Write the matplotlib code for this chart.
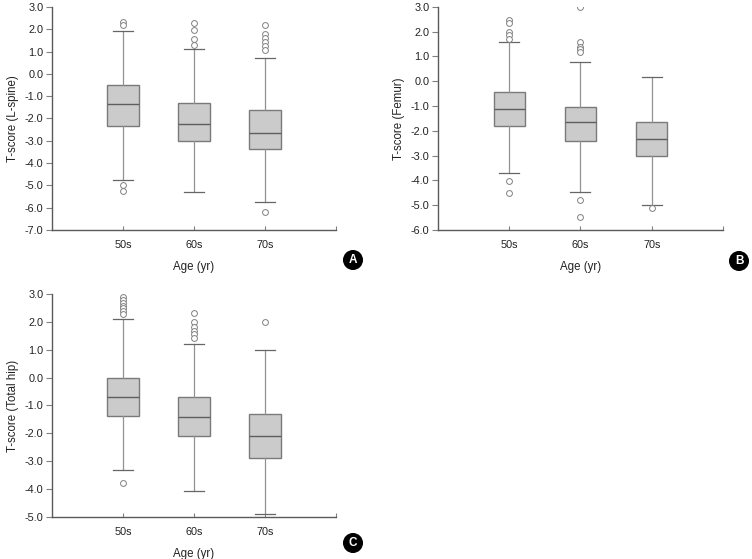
import matplotlib

matplotlib.use("Agg")
import matplotlib.pyplot as plt

plt.rcParams["font.family"] = ["Liberation Sans", "DejaVu Sans"]
plt.rcParams["axes.unicode_minus"] = False

groups = ["50s", "60s", "70s"]

# panel A: L-spine
a_whislo = [-4.75, -5.30, -5.73]
a_q1 = [-2.32, -3.01, -3.37]
a_med = [-1.35, -2.26, -2.65]
a_q3 = [-0.50, -1.30, -1.64]
a_whishi = [1.90, 1.10, 0.70]
a_fliers = [[2.31, 2.18, -4.98, -5.27],
            [2.28, 1.98, 1.57, 1.28],
            [2.21, 1.79, 1.61, 1.43, 1.25, 1.09, -6.18]]

# panel B: femur
b_whislo = [-3.71, -4.48, -5.00]
b_q1 = [-1.80, -2.42, -3.02]
b_med = [-1.13, -1.65, -2.32]
b_q3 = [-0.43, -1.04, -1.66]
b_whishi = [1.58, 0.78, 0.17]
b_fliers = [[2.46, 2.35, 1.99, 1.87, 1.71, -4.04, -4.51],
            [3.00, 1.60, 1.38, 1.29, 1.19, -4.78, -5.49],
            [-5.10]]

# panel C: total hip
c_whislo = [-3.33, -4.08, -4.89]
c_q1 = [-1.38, -2.10, -2.89]
c_med = [-0.71, -1.41, -2.10]
c_q3 = [-0.01, -0.71, -1.31]
c_whishi = [2.10, 1.21, 0.98]
c_fliers = [[2.88, 2.78, 2.68, 2.58, 2.48, 2.38, 2.28, -3.78],
            [2.32, 2.01, 1.80, 1.68, 1.56, 1.41],
            [2.01]]

BOX_FC = "#cbcbcb"
EDGE = "#7a7a7a"
WHISK = "#929292"


def make_stats(whislo, q1, med, q3, whishi, fliers):
    return [dict(label=g, whislo=lo, q1=a, med=m, q3=b, whishi=hi, fliers=f)
            for g, lo, a, m, b, hi, f in zip(groups, whislo, q1, med, q3, whishi, fliers)]


def draw_panel(fig, rect, stats, ylim, ylabel, letter, badge_xy):
    ax = fig.add_axes(rect)
    ax.bxp(stats, positions=[1, 2, 3], widths=0.44, capwidths=0.28,
           patch_artist=True,
           boxprops=dict(facecolor=BOX_FC, edgecolor=EDGE, linewidth=1.0),
           medianprops=dict(color="#5e5e5e", linewidth=1.0),
           whiskerprops=dict(color=WHISK, linewidth=0.9),
           capprops=dict(color="#666666", linewidth=0.9),
           flierprops=dict(marker="o", markersize=4.2, markerfacecolor="white",
                           markeredgecolor="#808080", markeredgewidth=0.7))
    ax.set_xlim(0, 4)
    ax.set_ylim(*ylim)
    yt = range(int(ylim[0]), int(ylim[1]) + 1)
    ax.set_yticks(yt)
    ax.set_yticklabels([f"{v:.1f}" for v in yt])
    ax.set_xticks([1, 2, 3, 4])
    ax.set_xticklabels(groups + [""])
    for s in ("top", "right"):
        ax.spines[s].set_visible(False)
    for s in ("left", "bottom"):
        ax.spines[s].set_color("#5a5a5a")
        ax.spines[s].set_linewidth(1.0)
    ax.tick_params(axis="y", direction="out", length=4, width=0.8, color="#808080",
                   labelsize=7.8, pad=2, labelcolor="#222222")
    ax.tick_params(axis="x", direction="in", length=3, width=0.8, color="#808080",
                   labelsize=7.8, pad=7, labelcolor="#222222")
    ax.set_xlabel("Age (yr)", fontsize=8.3, labelpad=8, color="#222222")
    ax.set_ylabel(ylabel, fontsize=8.3, labelpad=4, color="#222222")
    fig.text(badge_xy[0], badge_xy[1], letter, color="white", fontsize=8.5,
             fontweight="bold", ha="center", va="center",
             bbox=dict(boxstyle="circle,pad=0.28", fc="black", ec="black"))
    return ax


fig = plt.figure(figsize=(7.52, 5.59), dpi=100)

draw_panel(fig, [0.069, 0.5886, 0.378, 0.399],
           make_stats(a_whislo, a_q1, a_med, a_q3, a_whishi, a_fliers),
           (-7, 3), "T-score (L-spine)", "A", (353 / 752, 1 - 260 / 559))
draw_panel(fig, [0.5824, 0.5886, 0.379, 0.399],
           make_stats(b_whislo, b_q1, b_med, b_q3, b_whishi, b_fliers),
           (-6, 3), "T-score (Femur)", "B", (739 / 752, 1 - 261 / 559))
draw_panel(fig, [0.069, 0.0751, 0.378, 0.399],
           make_stats(c_whislo, c_q1, c_med, c_q3, c_whishi, c_fliers),
           (-5, 3), "T-score (Total hip)", "C", (353 / 752, 1 - 543 / 559))

fig.savefig("out.png", dpi=100)
